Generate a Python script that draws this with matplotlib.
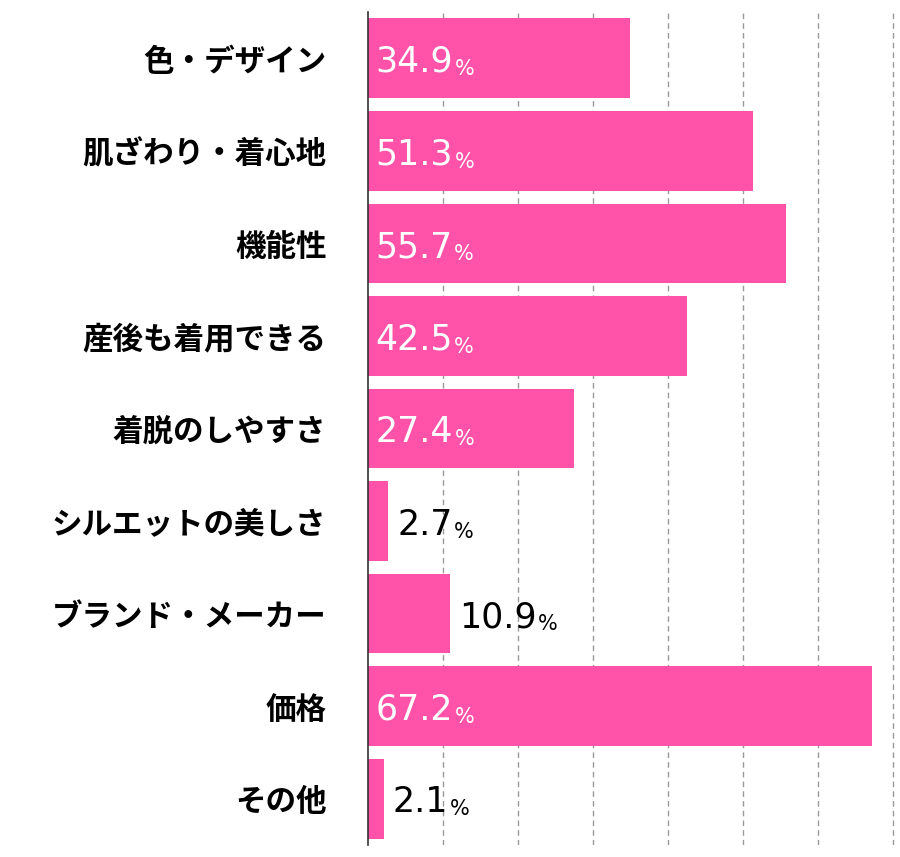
import matplotlib.pyplot as plt

categories = ['色・デザイン', '肌ざわり・着心地', '機能性', '産後も着用できる', '着脱のしやすさ',
              'シルエットの美しさ', 'ブランド・メーカー', '価格', 'その他']
values = [34.9, 51.3, 55.7, 42.5, 27.4, 2.7, 10.9, 67.2, 2.1]

bar_color = '#ff52a8'

fig = plt.figure(figsize=(9, 8.57), dpi=100)
ax = fig.add_axes([368 / 900, 12 / 857, 532 / 900, 833 / 857])

y = list(range(len(categories)))
ax.barh(y, values, height=0.86, color=bar_color, zorder=2)
ax.set_ylim(len(categories) - 0.5, -0.5)
ax.set_xlim(0, 70.9)

for gx in range(10, 80, 10):
    ax.axvline(gx, color='#999999', linestyle=(0, (4, 3)), linewidth=1, zorder=1)

ax.set_yticks(y)
ax.set_yticklabels(categories, fontfamily='Noto Sans CJK JP', fontweight='bold', fontsize=22)
ax.tick_params(axis='y', length=0, pad=30)
ax.set_xticks([])
for s in ['top', 'right', 'bottom']:
    ax.spines[s].set_visible(False)
ax.spines['left'].set_color('#333333')
ax.spines['left'].set_linewidth(1.2)

for yi, v in zip(y, values):
    if v >= 15:
        x0, col = 1.0, 'white'
    else:
        x0, col = v + 1.2, 'black'
    t = ax.text(x0, yi + 0.04, f'{v:.1f}', color=col, fontsize=25, va='center', ha='left',
                fontfamily='DejaVu Sans')
    ax.annotate('%', xy=(1, 0), xycoords=t, xytext=(1, 0), textcoords='offset points',
                color=col, fontsize=15, va='bottom', ha='left', fontfamily='DejaVu Sans')

fig.savefig('out.png', dpi=100)
